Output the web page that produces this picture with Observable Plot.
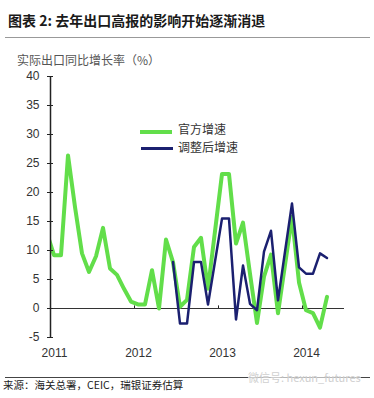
<!DOCTYPE html>
<html><head><meta charset="utf-8">
<script src="https://cdn.jsdelivr.net/npm/d3@7"></script>
<script src="https://cdn.jsdelivr.net/npm/@observablehq/plot@0.6"></script>
<style>
body{margin:0;background:#fff;width:374px;height:398px;position:relative;overflow:hidden;font-family:"Liberation Sans","Noto Sans CJK SC",sans-serif;}
.abs{position:absolute;white-space:nowrap;}
</style></head><body>
<div class="abs" style="left:8px;top:11px;font-weight:bold;font-size:14px;font-family:'Noto Sans CJK SC';color:#1a1a1a;line-height:18px">图表 2: 去年出口高报的影响开始逐渐消退</div>
<div class="abs" style="left:5px;top:37px;width:365px;height:1px;background:#999"></div>
<div class="abs" style="left:17px;top:52px;font-size:12px;font-family:'Noto Sans CJK SC';color:#555;line-height:16px">实际出口同比增长率（%）</div>
<div id="chart" class="abs" style="left:0;top:66px"></div>
<div id="legend"></div>
<div class="abs" style="left:5px;top:377px;width:365px;height:1px;background:#444"></div>
<div class="abs" style="left:3px;top:378px;font-size:10.5px;font-family:'Noto Sans CJK SC';color:#222;line-height:14px">来源：海关总署，CEIC，瑞银证券估算</div>
<div class="abs" style="left:248px;top:370px;font-size:11px;font-family:'Noto Sans CJK SC';color:#cfcfcf;line-height:14px;background:rgba(255,255,255,0.6)">微信号: hexun_futures</div>
<script>
// Monthly observations (Dec 2010 – Apr 2014)
const months = ["2010-12","2011-01","2011-02","2011-03","2011-04","2011-05","2011-06","2011-07","2011-08","2011-09","2011-10","2011-11","2011-12",
  "2012-01","2012-02","2012-03","2012-04","2012-05","2012-06","2012-07","2012-08","2012-09","2012-10","2012-11","2012-12",
  "2013-01","2013-02","2013-03","2013-04","2013-05","2013-06","2013-07","2013-08","2013-09","2013-10","2013-11","2013-12",
  "2014-01","2014-02","2014-03","2014-04"];
// 官方增速
const officialGrowth = [13.0,9.2,9.2,26.4,17.5,9.5,6.3,9.0,13.9,6.9,5.8,3.4,1.2,
  0.7,0.7,6.6,0.0,11.9,8.0,0.3,1.5,10.6,12.2,3.4,13.3,
  23.2,23.2,11.2,14.8,6.0,-2.5,5.5,9.3,-0.8,7.5,15.8,4.5,
  -0.3,-0.8,-3.3,2.0];
// 调整后增速
const adjustedGrowth = [null,null,null,null,null,null,null,null,null,null,null,null,null,
  null,null,null,null,null,8.0,-2.6,-2.6,8.0,8.0,0.7,8.1,
  15.5,15.5,-1.9,7.4,0.8,-0.3,9.8,13.4,1.4,9.8,18.1,7.1,
  6.0,6.0,9.5,8.7];
const seriesNames = ["官方增速","调整后增速"];
const seriesColors = ["#62de4a","#1b2070"];
const yearLabels = ["2011","2012","2013","2014"];
const yTicks = [-5,0,5,10,15,20,25,30,35,40];

// month position: months since Jan 1 2011, observation at mid-month
const toT = s => { const [y,m] = s.split("-").map(Number); return (y-2011)*12 + (m-1) + 0.5; };
const official = months.map((m,i) => ({t: toT(m), v: officialGrowth[i]}));
const adjusted = months.map((m,i) => ({t: toT(m), v: adjustedGrowth[i]}));
const yearPos = yearLabels.map(y => (Number(y)-2011)*12);

const chart = Plot.plot({
  width: 374, height: 306,
  marginTop: 10, marginBottom: 35, marginLeft: 50, marginRight: 30,
  x: {domain: [0, 42], label: null},
  y: {domain: [-5, 40], label: null},
  style: {fontFamily: "'Liberation Sans', Arial, sans-serif", fontSize: "12px", color: "#333", background: "transparent"},
  marks: [
    Plot.ruleY([0], {stroke: "#333", strokeWidth: 1.2}),
    Plot.ruleX(yearPos.slice(1), {x: d => d, y1: 0, y2: 0.45, stroke: "#222"}),
    Plot.line(official, {x: "t", y: "v", stroke: seriesColors[0], strokeWidth: 4, clip: true}),
    Plot.line(adjusted, {x: "t", y: "v", stroke: seriesColors[1], strokeWidth: 2.5, clip: true}),
    Plot.ruleX([0], {stroke: "#222", strokeWidth: 1.5}),
    Plot.axisY({ticks: yTicks, tickSize: 6, dx: 3, tickPadding: 8, tickFormat: d => String(d), stroke: "#222", label: null}),
    Plot.axisX({ticks: yearPos, tickSize: 0, tickPadding: 11, dx: 4, tickFormat: (d, i) => yearLabels[i], label: null})
  ]
});
document.getElementById("chart").appendChild(chart);

// legend
const lg = document.getElementById("legend");
const legendRows = [
  {lineLeft: 140, lineTop: 130, h: 4, textTop: 121},
  {lineLeft: 141, lineTop: 147, h: 3, textTop: 139}
];
seriesNames.forEach((name, i) => {
  const r = legendRows[i];
  const ln = document.createElement("div");
  ln.className = "abs";
  ln.style.cssText = `left:${r.lineLeft}px;top:${r.lineTop}px;width:32px;height:${r.h}px;background:${seriesColors[i]}`;
  lg.appendChild(ln);
  const tx = document.createElement("div");
  tx.className = "abs";
  tx.style.cssText = `left:178px;top:${r.textTop}px;font-size:12px;font-family:'Noto Sans CJK SC';color:#333;line-height:16px`;
  tx.textContent = name;
  lg.appendChild(tx);
});
</script>
</body></html>
